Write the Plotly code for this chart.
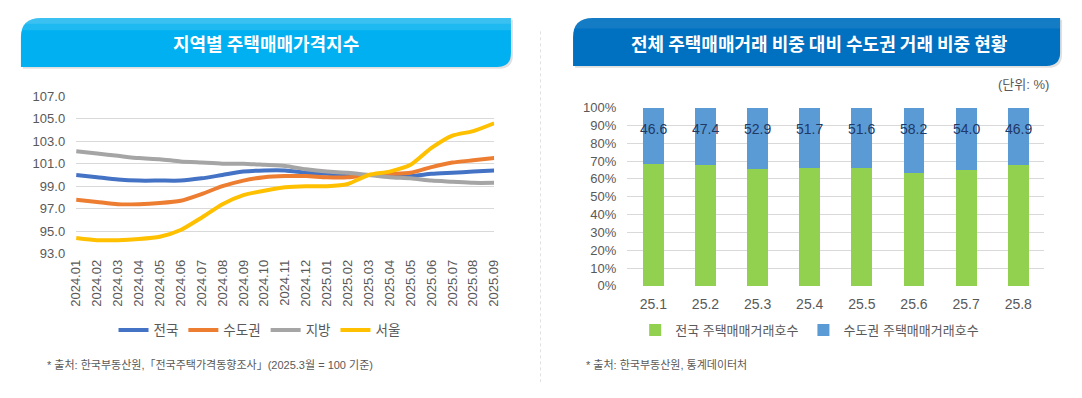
import plotly.graph_objects as go

# The page body keeps its default 8px margin, so the figure is sized to fill
# the window inside that margin and all positions below are window pixels.
OX, OY = 8, 8
W, H = 1082 - 2 * OX, 398 - 2 * OY

# ---------------- data ----------------
months = ["2024.01", "2024.02", "2024.03", "2024.04", "2024.05", "2024.06", "2024.07",
          "2024.08", "2024.09", "2024.10", "2024.11", "2024.12", "2025.01", "2025.02",
          "2025.03", "2025.04", "2025.05", "2025.06", "2025.07", "2025.08", "2025.09"]
nationwide = [100.0, 99.8, 99.6, 99.5, 99.5, 99.5, 99.7, 100.0, 100.3, 100.4, 100.4,
              100.2, 100.1, 100.0, 100.0, 100.0, 99.9, 100.1, 100.2, 100.3, 100.4]
capital = [97.8, 97.6, 97.4, 97.4, 97.5, 97.7, 98.3, 99.0, 99.5, 99.8, 99.9,
           99.9, 99.8, 99.8, 100.0, 100.1, 100.2, 100.7, 101.1, 101.3, 101.5]
provinces = [102.1, 101.9, 101.7, 101.5, 101.4, 101.2, 101.1, 101.0, 101.0, 100.9, 100.8,
             100.5, 100.3, 100.2, 100.0, 99.8, 99.7, 99.5, 99.4, 99.3, 99.3]
seoul = [94.4, 94.2, 94.2, 94.3, 94.5, 95.1, 96.2, 97.4, 98.2, 98.6, 98.9,
         99.0, 99.0, 99.2, 100.0, 100.3, 100.9, 102.4, 103.5, 103.9, 104.6]
y_ticks_left = [93, 95, 97, 99, 101, 103, 105, 107]

periods = ["25.1", "25.2", "25.3", "25.4", "25.5", "25.6", "25.7", "25.8"]
national_deals = [100, 100, 100, 100, 100, 100, 100, 100]          # base (전국 = 100)
capital_deals = [46.6, 47.4, 52.9, 51.7, 51.6, 58.2, 54.0, 46.9]     # 수도권 / 전국 (%)

# ---------------- style ----------------
FONT = "Liberation Sans, Arial, Noto Sans CJK KR, sans-serif"
KFONT = "Noto Sans CJK KR, Malgun Gothic, sans-serif"
GRAY_TXT = "#595959"
GRID = "#D9D9D9"


def px(x):
    return (x - OX) / W


def py(y):
    return 1 - (y - OY) / H


def box_path(x0, y0, x1, y1, r1, r2):
    pts = []
    pts.append(f"M {px(x0)},{py(y0 + r1)}")
    pts.append(f"Q {px(x0)},{py(y0)} {px(x0 + r1)},{py(y0)}")
    pts.append(f"L {px(x1)},{py(y0)}")
    pts.append(f"L {px(x1)},{py(y1 - r2)}")
    pts.append(f"Q {px(x1)},{py(y1)} {px(x1 - r2)},{py(y1)}")
    pts.append(f"L {px(x0)},{py(y1)} Z")
    return " ".join(pts)


fig = go.Figure()

line_series = [("전국", nationwide, "#4472C4"), ("수도권", capital, "#ED7D31"),
               ("지방", provinces, "#A5A5A5"), ("서울", seoul, "#FFC000")]
for name, vals, col in line_series:
    fig.add_trace(go.Scatter(x=months, y=vals, name=name, mode="lines",
                             line=dict(color=col, width=4, shape="spline", smoothing=0.6),
                             xaxis="x", yaxis="y", legend="legend"))

fig.add_trace(go.Bar(x=periods, y=national_deals, name="전국 주택매매거래호수",
                     marker=dict(color="#92D050", line=dict(width=0)),
                     xaxis="x2", yaxis="y2", legend="legend2"))
fig.add_trace(go.Bar(x=periods, y=capital_deals, name="수도권 주택매매거래호수",
                     marker=dict(color="#5B9BD5", line=dict(width=0)),
                     xaxis="x2", yaxis="y2", legend="legend2"))

# labels on the top of each stacked bar
annotations = []
for i, v in enumerate(capital_deals):
    annotations.append(dict(x=i, y=100, xref="x2", yref="y2", text=f"{v:.1f}",
                            showarrow=False, xanchor="center", yanchor="middle", yshift=-21,
                            font=dict(family=FONT, size=14, color="#1F3864")))

# header titles
annotations.append(dict(x=px(262), y=py(37), xref="paper", yref="paper",
                        xanchor="center", yanchor="middle",
                        text="<b>지역별 주택매매가격지수</b>", showarrow=False,
                        font=dict(family=KFONT, size=18, color="white")))
annotations.append(dict(x=px(823), y=py(37), xref="paper", yref="paper",
                        xanchor="center", yanchor="middle",
                        text="<b>전체 주택매매거래 비중 대비 수도권 거래 비중 현황</b>", showarrow=False,
                        font=dict(family=KFONT, size=18, color="white")))
# unit
annotations.append(dict(x=px(1058), y=py(80), xref="paper", yref="paper",
                        text="(단위: %)", showarrow=False, xanchor="right", yanchor="middle",
                        font=dict(family=FONT, size=13, color=GRAY_TXT)))
# footnotes
annotations.append(dict(x=px(37), y=py(372), xref="paper", yref="paper",
                        xanchor="left", yanchor="middle",
                        text="* 출처: 한국부동산원,「전국주택가격동향조사」(2025.3월 = 100 기준)",
                        showarrow=False, font=dict(family=FONT, size=11, color=GRAY_TXT)))
annotations.append(dict(x=px(584), y=py(372), xref="paper", yref="paper",
                        xanchor="left", yanchor="middle",
                        text="* 출처: 한국부동산원, 통계데이터처",
                        showarrow=False, font=dict(family=FONT, size=11, color=GRAY_TXT)))

shapes = [
    # shadows
    dict(type="path", xref="paper", yref="paper", path=box_path(15, 13, 512, 64, 20, 14),
         fillcolor="rgba(0,0,0,0.12)", line=dict(width=0), layer="below"),
    dict(type="path", xref="paper", yref="paper", path=box_path(575, 13, 1069, 63, 20, 14),
         fillcolor="rgba(0,0,0,0.12)", line=dict(width=0), layer="below"),
    # header boxes
    dict(type="path", xref="paper", yref="paper", path=box_path(13, 11, 510, 62, 20, 14),
         fillcolor="#00B0F0", line=dict(width=0), layer="below"),
    dict(type="path", xref="paper", yref="paper", path=box_path(573, 11, 1067, 61, 20, 14),
         fillcolor="#0070C0", line=dict(width=0), layer="below"),
    # top highlight (soft gradient)
    dict(type="path", xref="paper", yref="paper", path=box_path(13, 11, 510, 24, 13, 0),
         fillcolor="rgba(255,255,255,0.12)", line=dict(width=0), layer="below"),
    dict(type="path", xref="paper", yref="paper", path=box_path(13, 11, 510, 17, 7, 0),
         fillcolor="rgba(255,255,255,0.12)", line=dict(width=0), layer="below"),
    dict(type="path", xref="paper", yref="paper", path=box_path(573, 11, 1067, 22, 11, 0),
         fillcolor="rgba(255,255,255,0.08)", line=dict(width=0), layer="below"),
    # divider
    dict(type="line", xref="paper", yref="paper", x0=px(540), x1=px(540), y0=py(25), y1=0,
         line=dict(color="#E0E0E0", width=1, dash="dot")),
]

fig.update_layout(
    width=W, height=H,
    margin=dict(l=0, r=0, t=0, b=0),
    paper_bgcolor="white", plot_bgcolor="white",
    font=dict(family=FONT, color=GRAY_TXT),
    barmode="stack", barnorm="percent", bargap=0.6,
    showlegend=True,
    xaxis=dict(domain=[px(69), px(493)], type="category", tickangle=-90,
               tickfont=dict(size=13, color=GRAY_TXT), showgrid=False, showline=False,
               ticks="", ticklabelstandoff=2),
    yaxis=dict(domain=[py(257), py(92)], range=[92.95, 107.05], tickvals=y_ticks_left,
               tickformat=".1f", tickfont=dict(size=13, color=GRAY_TXT), showgrid=True,
               gridcolor=GRID, gridwidth=1.3, zeroline=False, showline=False, ticks="",
               ticklabelstandoff=10),
    xaxis2=dict(domain=[px(628), px(1051)], type="category", anchor="y2", range=[-0.5, 7.5],
                tickfont=dict(size=14, color=GRAY_TXT), showgrid=False, showline=False,
                ticks="", ticklabelstandoff=8),
    yaxis2=dict(domain=[py(290), py(104)], anchor="x2", range=[0, 100.2], dtick=10,
                ticksuffix="%", tickfont=dict(size=13, color=GRAY_TXT), showgrid=True,
                gridcolor=GRID, gridwidth=1.3, zeroline=False, showline=False, ticks="",
                ticklabelstandoff=10),
    legend=dict(orientation="h", x=px(255), xanchor="center", y=py(336), yanchor="middle",
                font=dict(family=FONT, size=13.5, color=GRAY_TXT), itemwidth=30,
                bgcolor="rgba(0,0,0,0)", traceorder="normal"),
    legend2=dict(orientation="h", x=px(813), xanchor="center", y=py(336), yanchor="middle",
                 font=dict(family=FONT, size=13, color=GRAY_TXT), itemwidth=30,
                 bgcolor="rgba(0,0,0,0)", traceorder="normal"),
    annotations=annotations,
    shapes=shapes,
)

fig.write_html("out.html", config={"displayModeBar": False})
